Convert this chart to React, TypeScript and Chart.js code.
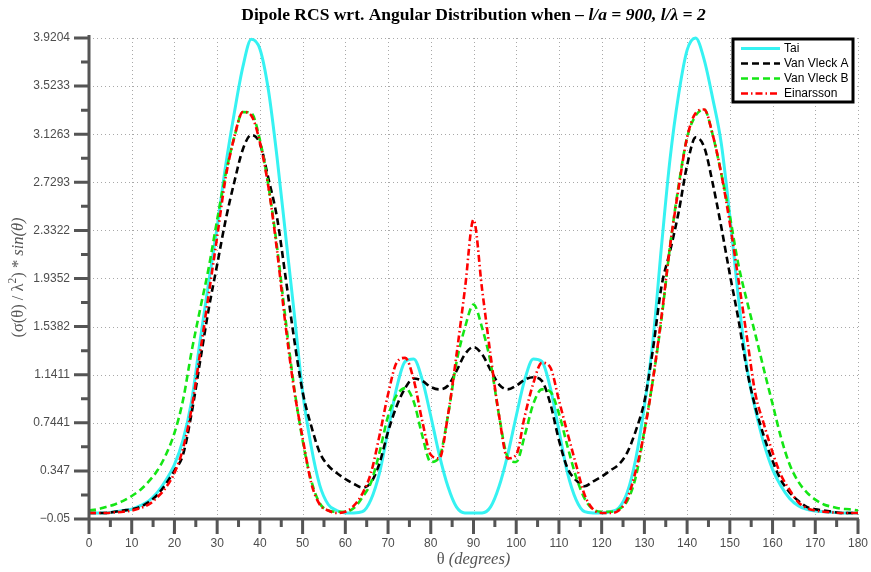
import React, { useEffect, useRef } from "react";
import { Chart, registerables } from "chart.js";

Chart.register(...registerables);

// ---- data ----
const angles = [
  0, 2, 4, 6, 8, 10, 12, 14, 16, 18, 20, 22, 24, 26, 28, 30, 32, 34, 36, 38,
  40, 42, 44, 46, 48, 50, 52, 54, 56, 58, 60, 62, 64, 66, 68, 70, 72, 74, 76, 78,
  80, 82, 84, 86, 88, 90, 92, 94, 96, 98, 100, 102, 104, 106, 108, 110, 112, 114, 116, 118,
  120, 122, 124, 126, 128, 130, 132, 134, 136, 138, 140, 142, 144, 146, 148, 150, 152, 154, 156, 158,
  160, 162, 164, 166, 168, 170, 172, 174, 176, 178, 180,
];

const taiValues = [
  0, 0, 0, 0.01, 0.02, 0.03, 0.06, 0.1, 0.17, 0.27, 0.4, 0.6, 0.92, 1.42, 1.9, 2.36, 2.87, 3.3, 3.68, 3.91,
  3.83, 3.49, 2.94, 2.3, 1.66, 1.0, 0.55, 0.23, 0.07, 0.02, 0, 0, 0.01, 0.11, 0.33, 0.68, 1.03, 1.25, 1.27, 1.1,
  0.8, 0.48, 0.22, 0.05, 0, 0, 0, 0.05, 0.22, 0.48, 0.8, 1.1, 1.27, 1.25, 1.03, 0.68, 0.33, 0.11, 0.01, 0,
  0, 0.01, 0.04, 0.17, 0.45, 0.88, 1.42, 2.2, 2.92, 3.45, 3.82, 3.92, 3.74, 3.42, 3.05, 2.45, 1.78, 1.2, 0.85, 0.57,
  0.36, 0.22, 0.12, 0.06, 0.03, 0.015, 0.01, 0.005, 0, 0, 0,
];

const vanVleckAValues = [
  0, 0, 0, 0.01, 0.02, 0.03, 0.05, 0.09, 0.15, 0.24, 0.35, 0.48, 0.82, 1.25, 1.68, 2.05, 2.42, 2.73, 3.0, 3.12,
  3.05, 2.76, 2.44, 1.95, 1.44, 1.0, 0.72, 0.5, 0.39, 0.33, 0.28, 0.24, 0.21, 0.25, 0.41, 0.67, 0.88, 1.03, 1.11, 1.09,
  1.04, 1.02, 1.05, 1.17, 1.31, 1.37, 1.31, 1.18, 1.06, 1.02, 1.05, 1.1, 1.12, 1.09, 0.9, 0.6, 0.37, 0.27, 0.22, 0.26,
  0.3, 0.35, 0.4, 0.5, 0.68, 0.92, 1.35, 1.87, 2.16, 2.48, 2.87, 3.1, 3.02, 2.72, 2.36, 1.97, 1.6, 1.18, 0.87, 0.63,
  0.43, 0.27, 0.17, 0.1, 0.05, 0.03, 0.02, 0.01, 0, 0, 0,
];

const vanVleckBValues = [
  0.02, 0.03, 0.05, 0.07, 0.1, 0.14, 0.19, 0.26, 0.35, 0.48, 0.66, 0.93, 1.33, 1.68, 2.02, 2.42, 2.8, 3.1, 3.31, 3.3,
  3.08, 2.7, 2.2, 1.6, 1.04, 0.6, 0.27, 0.08, 0.02, 0.01, 0.01, 0.04, 0.13, 0.25, 0.5, 0.8, 0.97, 1.03, 0.92, 0.64,
  0.42, 0.46, 0.8, 1.24, 1.53, 1.72, 1.53, 1.24, 0.8, 0.46, 0.42, 0.64, 0.9, 1.02, 1.0, 0.82, 0.55, 0.3, 0.12, 0.03,
  0.01, 0.01, 0.03, 0.1, 0.3, 0.68, 1.1, 1.6, 2.2, 2.7, 3.1, 3.28, 3.33, 3.12, 2.8, 2.45, 2.05, 1.75, 1.47, 1.18,
  0.9, 0.62, 0.4, 0.26, 0.17, 0.11, 0.07, 0.05, 0.035, 0.03, 0.02,
];

const einarssonValues = [
  0, 0, 0, 0.005, 0.01, 0.02, 0.04, 0.07, 0.13, 0.21, 0.33, 0.53, 0.86, 1.32, 1.8, 2.28, 2.77, 3.1, 3.31, 3.28,
  3.06, 2.69, 2.17, 1.55, 1.02, 0.62, 0.25, 0.07, 0.02, 0, 0.01, 0.06, 0.16, 0.33, 0.64, 0.98, 1.24, 1.28, 1.1, 0.76,
  0.48, 0.45, 0.8, 1.3, 1.85, 2.42, 1.85, 1.3, 0.8, 0.45, 0.48, 0.8, 1.07, 1.24, 1.2, 0.93, 0.66, 0.4, 0.15, 0.03,
  0, 0, 0.02, 0.12, 0.35, 0.67, 1.1, 1.62, 2.2, 2.68, 3.1, 3.3, 3.33, 3.12, 2.8, 2.39, 1.93, 1.45, 0.98, 0.73,
  0.5, 0.31, 0.19, 0.09, 0.04, 0.02, 0.01, 0.005, 0, 0, 0,
];

const seriesNames = ["Tai", "Van Vleck A", "Van Vleck B", "Einarsson"];

const yTickValues = [-0.05, 0.347, 0.7441, 1.1411, 1.5382, 1.9352, 2.3322, 2.7293, 3.1263, 3.5233, 3.9204];
const yTickLabels = ["\u22120.05", "0.347", "0.7441", "1.1411", "1.5382", "1.9352", "2.3322", "2.7293", "3.1263", "3.5233", "3.9204"];
const xTickValues = [0, 10, 20, 30, 40, 50, 60, 70, 80, 90, 100, 110, 120, 130, 140, 150, 160, 170, 180];
const xTickLabels = ["0", "10", "20", "30", "40", "50", "60", "70", "80", "90", "100", "110", "120", "130", "140", "150", "160", "170", "180"];

const SANS = '"Liberation Sans", Arial, Helvetica, sans-serif';
const SERIF = '"Liberation Serif", "Times New Roman", serif';

const COLORS = ["#36f2f2", "#000000", "#14e614", "#ff0000"];
const DASHES: number[][] = [[], [7, 4], [7, 4], [7, 3, 1.5, 3]];
const WIDTHS = [3, 2.6, 2.6, 2.6];

type Seg = { text: string; font: string; dy?: number };

function drawSegments(ctx: CanvasRenderingContext2D, segs: Seg[], cx: number, cy: number) {
  let total = 0;
  const widths = segs.map((s) => {
    ctx.font = s.font;
    const w = ctx.measureText(s.text).width;
    total += w;
    return w;
  });
  let x = cx - total / 2;
  segs.forEach((s, i) => {
    ctx.font = s.font;
    ctx.fillText(s.text, x, cy + (s.dy || 0));
    x += widths[i];
  });
}

const decorPlugin = {
  id: "decor",
  beforeDatasetsDraw(chart: any) {
    const { ctx, chartArea: a } = chart;
    const xs = chart.scales.x;
    const ys = chart.scales.y;
    ctx.save();
    ctx.strokeStyle = "#a8a8a8";
    ctx.lineWidth = 1;
    ctx.setLineDash([1, 3]);
    xTickValues.forEach((v) => {
      if (v === 0) return;
      const px = Math.round(xs.getPixelForValue(v)) + 0.5;
      ctx.beginPath();
      ctx.moveTo(px, a.top);
      ctx.lineTo(px, a.bottom);
      ctx.stroke();
    });
    yTickValues.forEach((v, i) => {
      if (i === 0) return;
      const py = Math.round(ys.getPixelForValue(v)) + 0.5;
      ctx.beginPath();
      ctx.moveTo(a.left, py);
      ctx.lineTo(a.right, py);
      ctx.stroke();
    });
    ctx.restore();
  },
  afterDatasetsDraw(chart: any) {
    const { ctx, chartArea: a } = chart;
    const xs = chart.scales.x;
    const ys = chart.scales.y;
    ctx.save();
    ctx.setLineDash([]);
    ctx.strokeStyle = "#555555";
    ctx.lineWidth = 3;
    ctx.lineCap = "butt";
    // axes
    ctx.beginPath();
    ctx.moveTo(a.left, a.top - 3);
    ctx.lineTo(a.left, a.bottom);
    ctx.moveTo(a.left, a.bottom);
    ctx.lineTo(a.right + 1, a.bottom);
    ctx.stroke();
    // y ticks
    ctx.beginPath();
    yTickValues.forEach((v, i) => {
      const py = ys.getPixelForValue(v);
      ctx.moveTo(a.left - 15, py);
      ctx.lineTo(a.left, py);
      if (i < yTickValues.length - 1) {
        const pm = ys.getPixelForValue((v + yTickValues[i + 1]) / 2);
        ctx.moveTo(a.left - 8, pm);
        ctx.lineTo(a.left, pm);
      }
    });
    // x ticks
    xTickValues.forEach((v, i) => {
      const px = xs.getPixelForValue(v);
      ctx.moveTo(px, a.bottom);
      ctx.lineTo(px, a.bottom + 15);
      if (i < xTickValues.length - 1) {
        const pm = xs.getPixelForValue((v + xTickValues[i + 1]) / 2);
        ctx.moveTo(pm, a.bottom);
        ctx.lineTo(pm, a.bottom + 8);
      }
    });
    ctx.stroke();

    // title
    ctx.fillStyle = "#000";
    ctx.textBaseline = "middle";
    ctx.textAlign = "left";
    const cx = (a.left + a.right) / 2;
    drawSegments(
      ctx,
      [
        { text: "Dipole RCS wrt. Angular Distribution when ", font: `bold 17.5px ${SERIF}` },
        { text: "\u2013 l/a = 900, l/\u03bb = 2", font: `italic bold 17.5px ${SERIF}` },
      ],
      cx,
      15
    );

    // x axis title
    ctx.fillStyle = "#555";
    drawSegments(
      ctx,
      [
        { text: "\u03b8 ", font: `16.5px ${SERIF}` },
        { text: "(degrees)", font: `italic 16.5px ${SERIF}` },
      ],
      cx,
      560
    );

    // y axis title
    ctx.save();
    ctx.translate(19, (a.top + a.bottom) / 2 - 1);
    ctx.rotate(-Math.PI / 2);
    drawSegments(
      ctx,
      [
        { text: "(\u03c3(\u03b8) / \u03bb", font: `16.5px ${SERIF}` },
        { text: "2", font: `11.5px ${SERIF}`, dy: -6 },
        { text: ") * ", font: `16.5px ${SERIF}` },
        { text: "sin(\u03b8)", font: `italic 16.5px ${SERIF}` },
      ],
      0,
      0
    );
    ctx.restore();

    // legend
    const lx = 733;
    const ly = 39;
    const lw = 120;
    const lh = 63;
    ctx.fillStyle = "#fff";
    ctx.fillRect(lx, ly, lw, lh);
    ctx.strokeStyle = "#000";
    ctx.lineWidth = 3;
    ctx.strokeRect(lx, ly, lw, lh);
    const rows = [48.5, 63.5, 78.5, 93.5];
    seriesNames.forEach((name, i) => {
      ctx.strokeStyle = COLORS[i];
      ctx.lineWidth = WIDTHS[i];
      ctx.setLineDash(DASHES[i]);
      ctx.beginPath();
      ctx.moveTo(741, rows[i]);
      ctx.lineTo(780, rows[i]);
      ctx.stroke();
      ctx.setLineDash([]);
      ctx.fillStyle = "#000";
      ctx.font = `12px ${SANS}`;
      ctx.textAlign = "left";
      ctx.textBaseline = "middle";
      ctx.fillText(name, 784, rows[i]);
    });
    ctx.restore();
  },
};

export default function App() {
  const canvasRef = useRef<HTMLCanvasElement | null>(null);

  useEffect(() => {
    document.body.style.margin = "0";
    const canvas = canvasRef.current;
    if (!canvas) return;
    const allSeries = [taiValues, vanVleckAValues, vanVleckBValues, einarssonValues];
    const orders = [3, 2, 1, 0];
    const chart = new Chart(canvas, {
      type: "line",
      data: {
        datasets: allSeries.map((vals, i) => ({
          label: seriesNames[i],
          data: angles.map((ang, k) => ({ x: ang, y: vals[k] })),
          borderColor: COLORS[i],
          backgroundColor: COLORS[i],
          borderWidth: WIDTHS[i],
          borderDash: DASHES[i],
          pointRadius: 0,
          fill: false,
          cubicInterpolationMode: "monotone" as const,
          order: orders[i],
          clip: false as any,
        })),
      },
      options: {
        animation: false,
        responsive: false,
        devicePixelRatio: 1,
        layout: { padding: { top: 38, right: 13, left: 0, bottom: 0 } },
        plugins: {
          legend: { display: false },
          title: { display: false },
          tooltip: { enabled: false },
        },
        scales: {
          x: {
            type: "linear",
            min: 0,
            max: 180,
            afterBuildTicks: (s: any) => {
              s.ticks = xTickValues.map((v) => ({ value: v }));
            },
            afterFit: (s: any) => {
              s.height = 53;
            },
            grid: { display: true, color: "rgba(0,0,0,0)", drawTicks: true, tickLength: 15, tickColor: "rgba(0,0,0,0)" },
            border: { display: false },
            ticks: {
              autoSkip: false,
              maxRotation: 0,
              padding: 2,
              color: "#4d4d4d",
              font: { family: SANS, size: 12 },
              callback: (_v: any, i: number) => xTickLabels[i],
            },
          },
          y: {
            type: "linear",
            min: -0.05,
            max: 3.9204,
            afterBuildTicks: (s: any) => {
              s.ticks = yTickValues.map((v) => ({ value: v }));
            },
            afterFit: (s: any) => {
              s.width = 89;
            },
            grid: { display: true, color: "rgba(0,0,0,0)", drawTicks: true, tickLength: 15, tickColor: "rgba(0,0,0,0)" },
            border: { display: false },
            ticks: {
              autoSkip: false,
              padding: 4,
              color: "#4d4d4d",
              font: { family: SANS, size: 12 },
              callback: (_v: any, i: number) => yTickLabels[i],
            },
          },
        },
      },
      plugins: [decorPlugin],
    });
    return () => chart.destroy();
  }, []);

  return (
    <div style={{ position: "absolute", left: 0, top: 0, width: 871, height: 572 }}>
      <canvas ref={canvasRef} width={871} height={572} style={{ width: 871, height: 572, display: "block" }} />
    </div>
  );
}
